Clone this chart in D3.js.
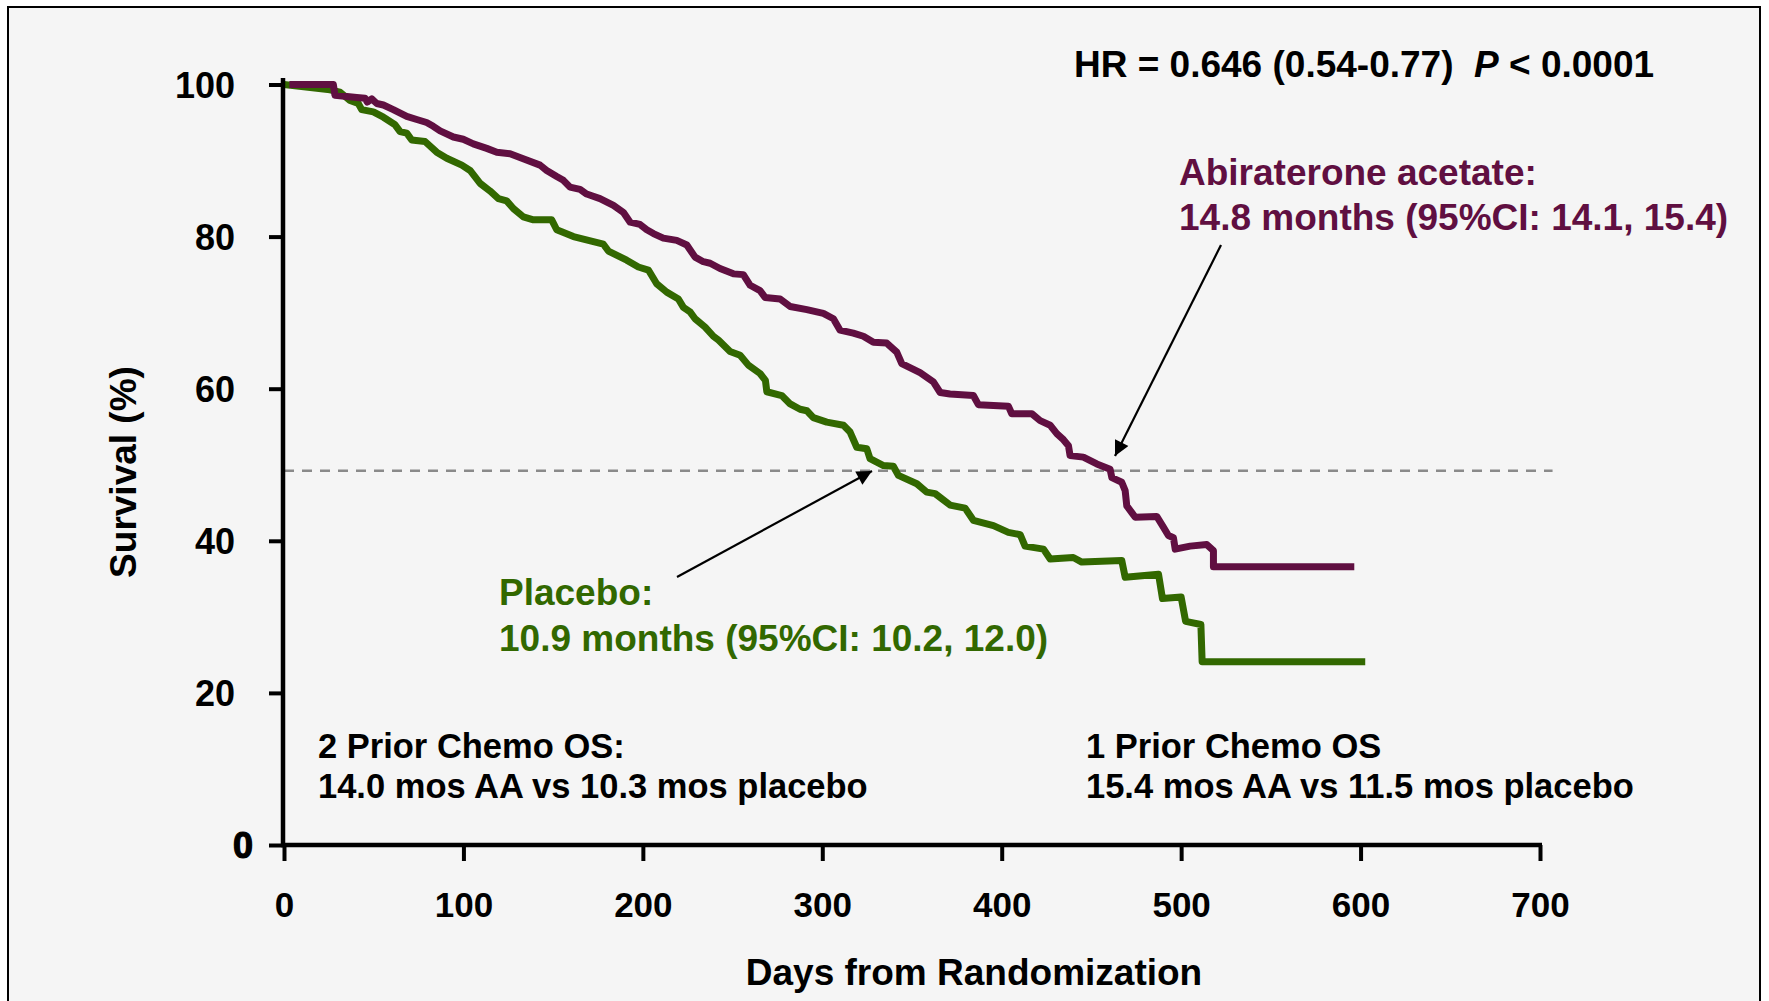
<!DOCTYPE html>
<html>
<head>
<meta charset="utf-8">
<script src="https://cdn.jsdelivr.net/npm/d3@7"></script>
<style>
  html, body { margin: 0; padding: 0; background: #ffffff; }
  svg { display: block; }
  text { font-family: "Liberation Sans", Arial, Helvetica, sans-serif; font-weight: bold; }
</style>
</head>
<body>
<svg id="chart" width="1769" height="1001"></svg>
<script>
// ---------------- data ----------------
const xTicks = [0, 100, 200, 300, 400, 500, 600, 700];
const yTicks = [0, 20, 40, 60, 80, 100];
const medianLine = 49.2;

// Kaplan-Meier curves: [day, survival %]
const abirateroneCurve = [
  [3,100],[27.5,100],[28.4,98.6],[40.5,98.3],[45.2,98.2],[46.4,97.7],[48.9,98.1],[51.7,97.5],[55.4,97.3],
  [60.9,96.7],[68.4,95.8],[74,95.4],[79.5,95.0],[83.2,94.5],[87,93.9],[94.4,93.1],[99.9,92.8],
  [105.5,92.2],[113,91.6],[118.6,91.1],[126,90.9],[131.5,90.4],[142.7,89.4],[146.4,88.7],[152,87.9],
  [155.7,87.4],[159.4,86.5],[165,86.2],[168.7,85.6],[176.1,85.0],[183.6,84.1],[189.1,83.2],[192.9,81.9],
  [198.4,81.6],[202.2,80.9],[205.9,80.4],[211.4,79.8],[218.9,79.5],[224.5,78.9],[229.1,77.3],[233.7,76.7],
  [237.5,76.5],[243,75.8],[250.5,75.1],[256,75.0],[259.8,73.6],[265.3,72.9],[268.1,72.0],[276.5,71.8],
  [282.1,70.8],[291.4,70.4],[300.6,69.9],[306.2,69.2],[309.9,67.7],[317.3,67.3],[322.9,66.9],[328.5,66.1],
  [335.9,66.0],[341.5,64.8],[344.3,63.3],[354.5,62.1],[361.9,60.9],[365.7,59.5],[371.2,59.3],[384.2,59.1],
  [387,57.9],[395.4,57.8],[403.7,57.7],[405.6,56.7],[416.8,56.7],[421.4,55.8],[427,55.2],[430.7,54.1],
  [434.4,53.3],[437.2,52.5],[438.1,51.2],[445.5,51.0],[453,50.1],[460.4,49.4],[461.4,48.3],[466.9,47.7],
  [468.8,46.6],[469.7,44.6],[472.5,43.7],[474.4,43.1],[486.4,43.2],[490.1,41.8],[492.9,40.7],[495.7,40.4],
  [496.7,38.9],[505,39.3],[514.3,39.5],[518,38.7],[518,36.6],[596.5,36.6]
];
const placeboCurve = [
  [0,100],[25.6,99.3],[31.2,99.0],[36.8,97.9],[41.4,97.5],[43.3,96.7],[49.8,96.4],[55.4,95.7],
  [61.9,94.7],[64.7,93.8],[68.4,93.6],[71.2,92.7],[78.6,92.5],[85.1,91.1],[90.7,90.3],[99.1,89.4],
  [103.7,88.7],[109.3,87.0],[114.8,86.0],[119.5,85.0],[124.1,84.7],[127.8,83.7],[133.4,82.6],[139,82.2],
  [149.2,82.2],[152,80.9],[161.3,80.0],[178,79.0],[180.8,78.1],[191,76.9],[197.5,76.0],[203.1,75.6],
  [207.7,73.8],[213.3,72.7],[219.8,71.8],[222.6,70.7],[226.3,70.1],[229.1,69.2],[234.7,68.1],[239.3,66.9],
  [242.1,66.4],[248.6,64.9],[254.2,64.4],[258.8,63.1],[265.3,62.0],[268.3,61.1],[269.1,59.6],[277.4,59.1],
  [282.1,58.0],[287.6,57.3],[291.4,57.1],[295,56.2],[302.5,55.6],[311.8,55.2],[315.5,54.3],[319.2,52.3],
  [324.8,52.1],[326.6,50.8],[334.1,49.9],[339.6,49.8],[342.4,48.6],[352.7,47.5],[358.2,46.4],[362.9,46.2],
  [371.2,44.7],[379.6,44.3],[384.2,42.7],[395.4,42.0],[403.7,41.1],[410.3,40.8],[413,39.3],[423.3,38.9],
  [427,37.6],[439.9,37.8],[444.6,37.2],[466.9,37.4],[468.8,35.2],[487.4,35.6],[489.6,32.4],[500,32.6],
  [502.5,29.4],[511,29.0],[511.7,24.1],[602.6,24.1]
];

const hrLabel = ["HR = 0.646 (0.54-0.77)  ", "P", " < 0.0001"];
const abiLabel = ["Abiraterone acetate:", "14.8 months (95%CI: 14.1, 15.4)"];
const pboLabel = ["Placebo:", "10.9 months (95%CI: 10.2, 12.0)"];
const note2 = ["2 Prior Chemo OS:", "14.0 mos AA vs 10.3 mos placebo"];
const note1 = ["1 Prior Chemo OS", "15.4 mos AA vs 11.5 mos placebo"];
const xTitle = "Days from Randomization";
const yTitle = "Survival (%)";

// ---------------- drawing ----------------
const svg = d3.select("#chart");
const purple = "#600f41";
const green = "#326800";

svg.append("rect").attr("x", 8).attr("y", 7).attr("width", 1752).attr("height", 1010)
  .attr("fill", "#f5f5f5").attr("stroke", "#000").attr("stroke-width", 2);

const x = d3.scaleLinear().domain([0, 700]).range([284, 1540]);
const y = d3.scaleLinear().domain([0, 100]).range([845, 84.5]);

// dashed median line
svg.append("line")
  .attr("x1", x(0)).attr("x2", x(707))
  .attr("y1", y(medianLine)).attr("y2", y(medianLine))
  .attr("stroke", "#8a8a8a").attr("stroke-width", 2.5).attr("stroke-dasharray", "10,8");

// curves
const line = d3.line().x(d => x(d[0])).y(d => y(d[1]));
svg.append("path").datum(placeboCurve).attr("d", line)
  .attr("fill", "none").attr("stroke", green).attr("stroke-width", 7).attr("stroke-linejoin", "round");
svg.append("path").datum(abirateroneCurve).attr("d", line)
  .attr("fill", "none").attr("stroke", purple).attr("stroke-width", 7).attr("stroke-linejoin", "round");

// axes
const yAxis = d3.axisLeft(y).tickValues(yTicks).tickSize(14).tickSizeOuter(0).tickPadding(34);
const gy = svg.append("g").attr("transform", `translate(${x(0) - 1},0)`).call(yAxis);
gy.select(".domain").remove();
gy.selectAll(".tick line").attr("stroke", "#000").attr("stroke-width", 4);
gy.selectAll(".tick text").attr("fill", "#000").attr("font-size", 36)
  .attr("font-family", '"Liberation Sans", Arial, sans-serif').attr("font-weight", "bold")
  .attr("dy", "0.36em");
gy.selectAll(".tick").filter(d => d === 0).select("text").attr("x", -30)
  .attr("stroke", "#000").attr("stroke-width", 1.2);

const xAxis = d3.axisBottom(x).tickValues(xTicks).tickSize(16).tickSizeOuter(0).tickPadding(31);
const gx = svg.append("g").attr("transform", `translate(0,${y(0)})`).call(xAxis);
gx.select(".domain").remove();
gx.selectAll(".tick line").attr("stroke", "#000").attr("stroke-width", 4);
gx.selectAll(".tick text").attr("fill", "#000").attr("font-size", 35)
  .attr("font-family", '"Liberation Sans", Arial, sans-serif').attr("font-weight", "bold")
  .attr("dy", "0.72em");

// axis lines
svg.append("line").attr("x1", x(0) - 1).attr("x2", x(0) - 1).attr("y1", 78).attr("y2", y(0) + 2)
  .attr("stroke", "#000").attr("stroke-width", 4.5);
svg.append("line").attr("x1", x(0) - 3).attr("x2", x(700) + 2).attr("y1", y(0)).attr("y2", y(0))
  .attr("stroke", "#000").attr("stroke-width", 4.5);

// axis titles
svg.append("text").attr("x", 974).attr("y", 985).attr("text-anchor", "middle")
  .attr("font-size", 37).attr("fill", "#000").text(xTitle);
svg.append("text").attr("transform", "translate(136,472) rotate(-90)").attr("text-anchor", "middle")
  .attr("font-size", 37).attr("fill", "#000").text(yTitle);

// HR text
const hr = svg.append("text").attr("x", 1074).attr("y", 77).attr("font-size", 37).attr("fill", "#000");
hr.append("tspan").style("white-space", "pre").text(hrLabel[0]);
hr.append("tspan").attr("font-style", "italic").text(hrLabel[1]);
hr.append("tspan").style("white-space", "pre").text(hrLabel[2]);

function twoLines(lines, x0, y0, dy, color, size) {
  lines.forEach((t, i) => {
    svg.append("text").attr("x", x0).attr("y", y0 + i * dy).attr("font-size", size)
      .attr("fill", color).text(t);
  });
}
twoLines(abiLabel, 1179, 185, 45, purple, 37);
twoLines(pboLabel, 499, 605, 46, green, 37);
twoLines(note2, 318, 758, 40, "#000", 34.5);
twoLines(note1, 1086, 758, 40, "#000", 34.5);

// arrows
const defs = svg.append("defs");
defs.append("marker").attr("id", "ah").attr("viewBox", "0 0 10 10").attr("refX", 10).attr("refY", 5)
  .attr("markerWidth", 17).attr("markerHeight", 15).attr("markerUnits", "userSpaceOnUse")
  .attr("orient", "auto")
  .append("path").attr("d", "M0,0 L10,5 L0,10 Z").attr("fill", "#000");

svg.append("line").attr("x1", 1221).attr("y1", 245).attr("x2", 1115).attr("y2", 456)
  .attr("stroke", "#000").attr("stroke-width", 2.2).attr("marker-end", "url(#ah)");
svg.append("line").attr("x1", 677).attr("y1", 577).attr("x2", 872).attr("y2", 471)
  .attr("stroke", "#000").attr("stroke-width", 2.2).attr("marker-end", "url(#ah)");
</script>
</body>
</html>
